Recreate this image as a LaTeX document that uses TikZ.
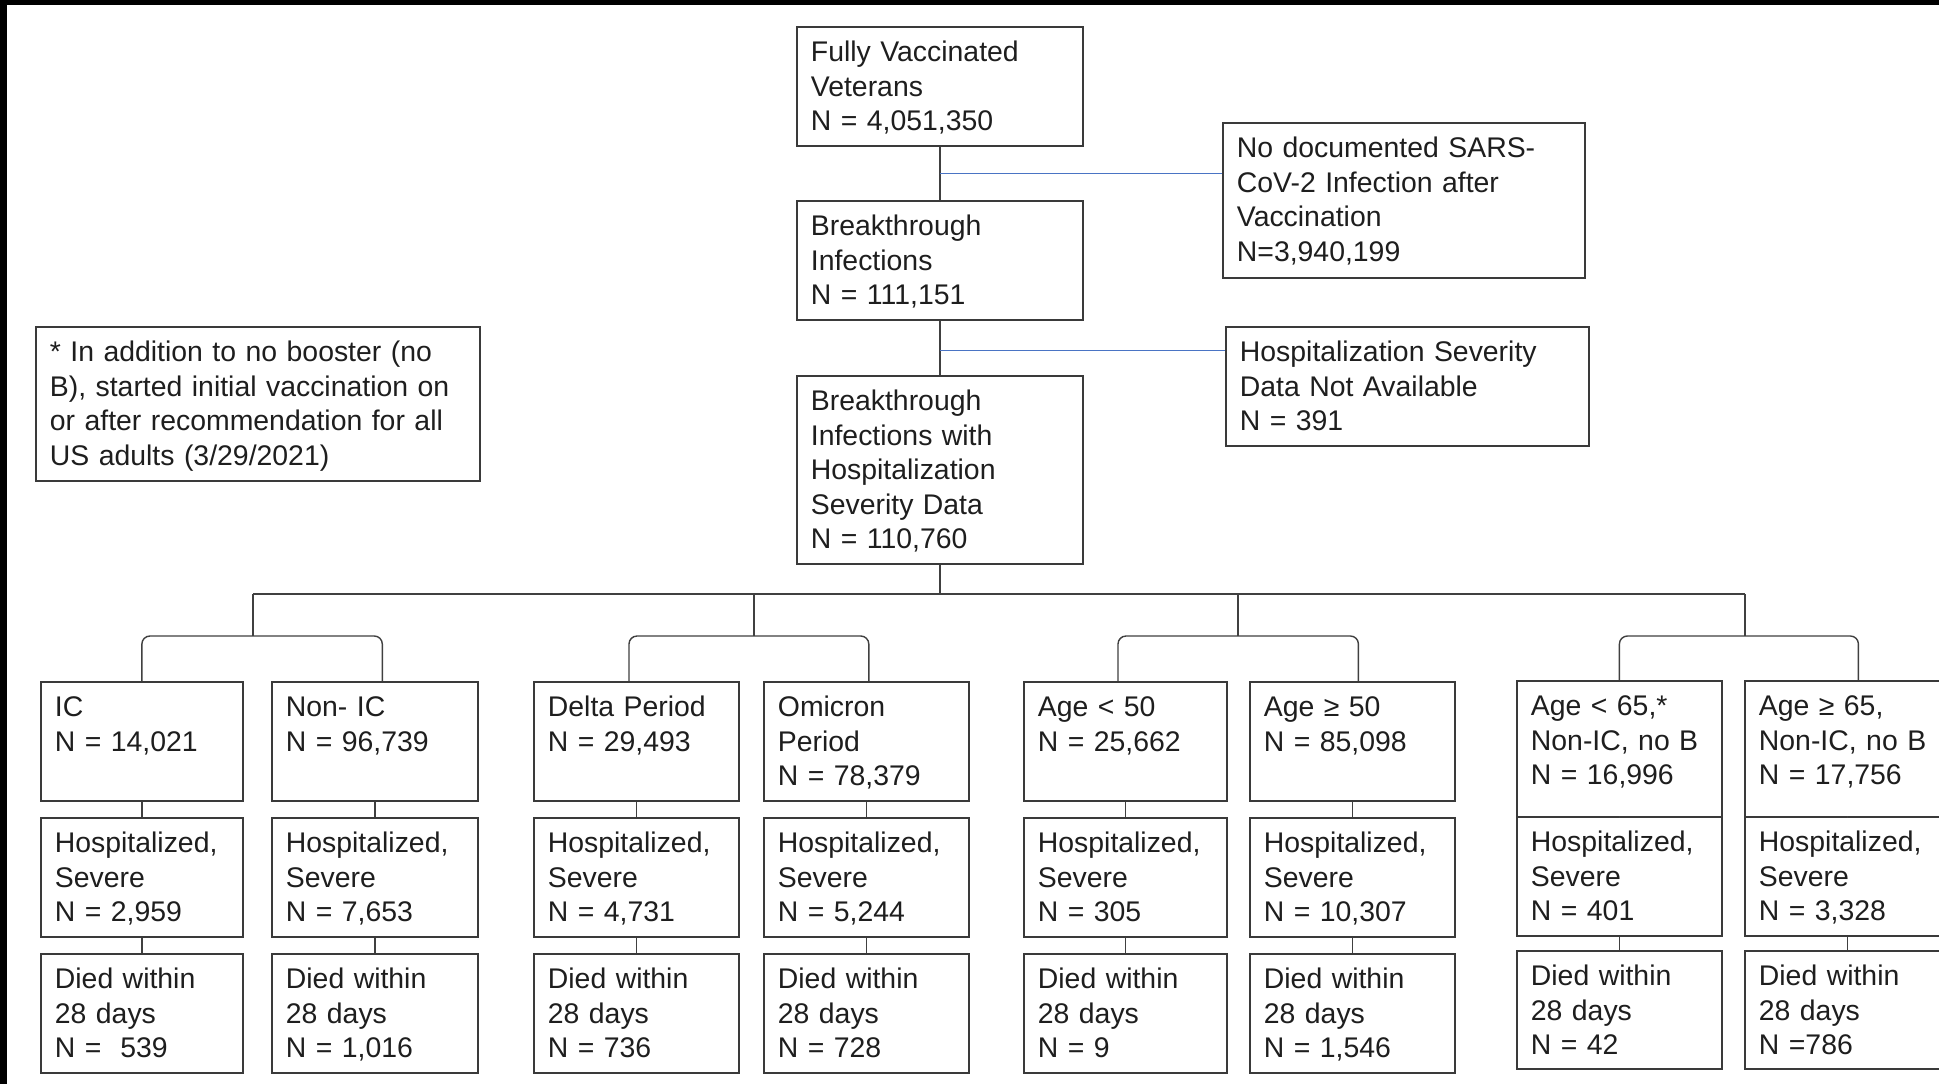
\documentclass[tikz,border=0pt]{standalone}
\usepackage{fontspec}
\setmainfont{Liberation Sans}
\usetikzlibrary{calc}
\definecolor{boxgray}{HTML}{3A3A3A}
\definecolor{linegray}{HTML}{404040}
\definecolor{txtgray}{HTML}{1E1E1E}
\definecolor{sideblue}{HTML}{4A74C4}

\begin{document}
\begin{tikzpicture}[x=0.5pt,y=-0.5pt,every node/.style={draw=boxgray,line width=0.9pt,anchor=north west,align=left,inner xsep=7pt,inner ysep=0pt,text height=17.3pt,text=txtgray,font=\fontsize{14.2}{17.3}\selectfont},box/.style 2 args={text width=#1,text depth=#2},link/.style={draw=linegray,line width=0.7pt},trunk/.style={draw=linegray,line width=1.3pt},side/.style={draw=sideblue,line width=0.7pt},bracket/.style={link,rounded corners=4pt}]
\useasboundingbox (0,0) rectangle (1939,1084);
\fill[black] (0,0) rectangle (1939,1084);
\fill[white] (7,5) rectangle (1939,1084);
% top of the flow
\node[box={129pt}{42.2pt}] (vacc) at (796,26) {Fully Vaccinated\\Veterans\\N = 4,051,350};
\node[box={129pt}{42.2pt}] (bti) at (796,200) {Breakthrough\\Infections\\N = 111,151};
\node[box={129pt}{76.7pt}] (btd) at (796,375) {Breakthrough\\Infections with\\Hospitalization\\Severity Data\\N = 110,760};
\node[box={167pt}{60.2pt}] (nodoc) at (1222,122) {No documented SARS-\\CoV-2 Infection after\\Vaccination\\N=3,940,199};
\node[box={167.5pt}{42.2pt}] (nohosp) at (1225,326) {Hospitalization Severity\\Data Not Available\\N = 391};
\node[box={208pt}{59.7pt}] (note) at (35,326) {* In addition to no booster (no\\B), started initial vaccination on\\or after recommendation for all\\US adults (3/29/2021)};
% subgroups
\node[box={87pt}{42.2pt}] (ic) at (40,681) {IC\\N = 14,021};
\node[box={87pt}{42.2pt}] (icH) at (40,817) {Hospitalized,\\Severe\\N = 2,959};
\node[box={87pt}{42.2pt}] (icD) at (40,953) {Died within\\28 days\\N = \ 539};
\node[box={89pt}{42.2pt}] (nic) at (271,681) {Non- IC\\N = 96,739};
\node[box={89pt}{42.2pt}] (nicH) at (271,817) {Hospitalized,\\Severe\\N = 7,653};
\node[box={89pt}{42.2pt}] (nicD) at (271,953) {Died within\\28 days\\N = 1,016};
\node[box={88.5pt}{42.2pt}] (del) at (533,681) {Delta Period\\N = 29,493};
\node[box={88.5pt}{42.2pt}] (delH) at (533,817) {Hospitalized,\\Severe\\N = 4,731};
\node[box={88.5pt}{42.2pt}] (delD) at (533,953) {Died within\\28 days\\N = 736};
\node[box={88.5pt}{42.2pt}] (omi) at (763,681) {Omicron\\Period\\N = 78,379};
\node[box={88.5pt}{42.2pt}] (omiH) at (763,817) {Hospitalized,\\Severe\\N = 5,244};
\node[box={88.5pt}{42.2pt}] (omiD) at (763,953) {Died within\\28 days\\N = 728};
\node[box={87.5pt}{42.2pt}] (ylt) at (1023,681) {Age < 50\\N = 25,662};
\node[box={87.5pt}{42.2pt}] (yltH) at (1023,817) {Hospitalized,\\Severe\\N = 305};
\node[box={87.5pt}{42.2pt}] (yltD) at (1023,953) {Died within\\28 days\\N = 9};
\node[box={88.5pt}{42.2pt}] (yge) at (1249,681) {Age ≥ 50\\N = 85,098};
\node[box={88.5pt}{42.2pt}] (ygeH) at (1249,817) {Hospitalized,\\Severe\\N = 10,307};
\node[box={88.5pt}{42.2pt}] (ygeD) at (1249,953) {Died within\\28 days\\N = 1,546};
\node[box={88.5pt}{50.7pt}] (olt) at (1516,680) {Age < 65,*\\Non-IC, no B\\N = 16,996};
\node[box={88.5pt}{42.2pt}] (oltH) at (1516,816) {Hospitalized,\\Severe\\N = 401};
\node[box={88.5pt}{41.7pt}] (oltD) at (1516,950) {Died within\\28 days\\N = 42};
\node[box={88.5pt}{50.7pt}] (oge) at (1744,680) {Age ≥ 65,\\Non-IC, no B\\N = 17,756};
\node[box={88.5pt}{42.2pt}] (ogeH) at (1744,816) {Hospitalized,\\Severe\\N = 3,328};
\node[box={88.5pt}{41.7pt}] (ogeD) at (1744,950) {Died within\\28 days\\N =786};
% connectors
\draw[trunk] (vacc.south) -- (bti.north);
\draw[trunk] (bti.south) -- (btd.north);
\coordinate (j1) at ($(vacc.south)!.5!(bti.north)$);
\coordinate (j2) at ($(bti.south)!.55!(btd.north)$);
\draw[side] (j1) -- (j1 -| nodoc.west);
\draw[side] (j2) -- (j2 -| nohosp.west);
\coordinate (g1) at (253,594);
\coordinate (g2) at (754,594);
\coordinate (g3) at (1238,594);
\coordinate (g4) at (1745,594);
\coordinate (s1) at (253,636);
\coordinate (s2) at (754,636);
\coordinate (s3) at (1238,636);
\coordinate (s4) at (1745,636);
\draw[link] (btd.south) -- (btd.south |- g1);
\draw[link] (g1) -- (g4);
\foreach \i in {1,...,4} \draw[link] (g\i) -- (s\i);
\draw[bracket] (ic.north) |- (s1) -| ([xshift=3.7pt]nic.north);
\draw[bracket] ([xshift=-3.7pt]del.north) |- (s2) -| ([xshift=1.2pt]omi.north);
\draw[bracket] ([xshift=-3.7pt]ylt.north) |- (s3) -| ([xshift=3pt]yge.north);
\draw[bracket] (olt.north) |- (s4) -| ([xshift=5.5pt]oge.north);
\foreach \col in {ic,nic,del,omi,ylt,yge,olt,oge} {
  \draw[link] (\col.south) -- (\col H.north);
  \draw[link] (\col H.south) -- (\col D.north);
}
\end{tikzpicture}
\end{document}
